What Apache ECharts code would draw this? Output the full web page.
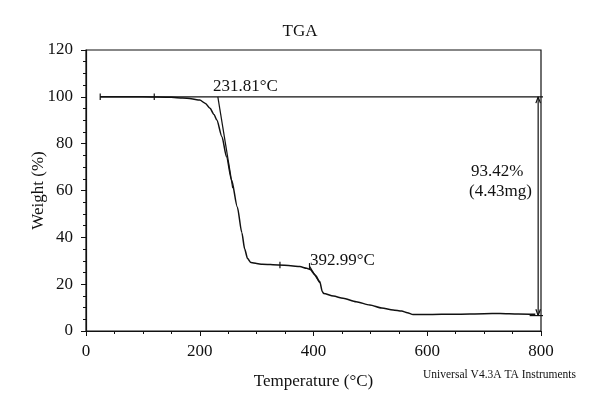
<!DOCTYPE html>
<html><head><meta charset="utf-8">
<script src="https://cdn.jsdelivr.net/npm/echarts@6/dist/echarts.min.js"></script>
<style>html,body{margin:0;padding:0;background:#fff}#c{width:600px;height:412px}</style>
</head><body><div id="c"></div>
<script>
// TGA curve (temperature °C, weight %)
const temperature = [25, 100, 150, 170, 185, 200, 210, 218, 225, 230, 239, 247, 256, 266, 274, 279, 284, 290, 300, 310, 338, 360, 376, 388, 394, 403, 411, 415.5, 418, 435, 452, 475, 499, 520, 540, 555, 565, 575, 600, 650, 700, 728, 760, 790];
const weight =      [100, 100, 99.8, 99.5, 99.2, 98.6, 97.2, 95.1, 92.5, 90.1, 83, 74.4, 64.5, 53, 42, 35, 31, 29.2, 28.8, 28.5, 28.2, 27.9, 27.5, 26.8, 26.3, 23.9, 21.1, 16.8, 16.0, 14.9, 14.0, 12.5, 11.1, 9.8, 9.0, 8.5, 7.8, 7.0, 7.0, 7.2, 7.4, 7.5, 7.3, 7.1];

// analysis annotations (data coordinates)
const onset1 = 231.81, onset2 = 392.99;
const lossPct = 93.42, residue = 100 - lossPct;
const baselineLine = [[25, 100], [806, 100]];
const tangent1 = [[onset1, 100], [258, 61]];
const tangent2 = [[onset2, 27.6], [411, 20.5]];
const tick1 = [[25, 98.6], [25, 101.4]];
const tick2 = [[120, 98.6], [120, 101.4]];
const tick3 = [[341, 26.8], [341, 29.6]];
const tick4 = [[onset2, 26.2], [onset2, 29.0]];
const arrowShaft = [[795, 100], [795, residue]];
const arrowTop = [[791, 97.3], [795, 100], [799, 97.3]];
const arrowBottom = [[791, residue + 2.7], [795, residue], [799, residue + 2.7]];
const residueLine = [[780, residue], [806, residue]];

const xTicks = [0, 200, 400, 600, 800];
const yTicks = [0, 20, 40, 60, 80, 100, 120];

const serif = 'Liberation Serif, DejaVu Serif, serif';
const chart = echarts.init(document.getElementById('c'), null, {renderer: 'canvas'});

function seg(data, w) {
  return {type: 'line', data: data, showSymbol: false, symbol: 'none', clip: false, silent: true,
    animation: false, lineStyle: {color: '#111', width: w || 1.2}, z: 3};
}

const curve = temperature.map((t, i) => [t, weight[i]]);

chart.setOption({
  animation: false,
  backgroundColor: '#fff',
  grid: {left: 86, right: 59, top: 50, bottom: 81, show: true, borderColor: '#111', borderWidth: 1.2, backgroundColor: 'transparent'},
  title: {text: 'TGA', left: 'center', top: 18, textStyle: {fontFamily: serif, fontSize: 17, fontWeight: 'normal', color: '#111'}},
  xAxis: {type: 'value', min: xTicks[0], max: xTicks[xTicks.length - 1], interval: 200,
    name: 'Temperature (°C)', nameLocation: 'middle', nameGap: 42, nameMoveOverlap: false,
    nameTextStyle: {fontFamily: serif, fontSize: 17, color: '#111'},
    axisLine: {lineStyle: {color: '#111', width: 1.2}},
    axisTick: {length: 5, lineStyle: {color: '#111'}},
    minorTick: {show: true, splitNumber: 4, length: 3, lineStyle: {color: '#111'}},
    splitLine: {show: false},
    axisLabel: {fontFamily: serif, fontSize: 17, color: '#111', margin: 12}},
  yAxis: {type: 'value', min: yTicks[0], max: yTicks[yTicks.length - 1], interval: 20,
    name: 'Weight (%)', nameLocation: 'middle', nameGap: 39, nameMoveOverlap: false,
    nameTextStyle: {fontFamily: serif, fontSize: 17, color: '#111'},
    axisLine: {show: true, lineStyle: {color: '#111', width: 1.2}},
    axisTick: {length: 5, lineStyle: {color: '#111'}},
    minorTick: {show: true, splitNumber: 4, length: 3, lineStyle: {color: '#111'}},
    splitLine: {show: false},
    axisLabel: {fontFamily: serif, fontSize: 17, color: '#111', margin: 13}},
  graphic: [
    {type: 'text', left: 213, top: 78, style: {text: '231.81°C', font: '17px ' + serif, fill: '#111'}},
    {type: 'text', left: 310, top: 252, style: {text: '392.99°C', font: '17px ' + serif, fill: '#111'}},
    {type: 'text', left: 471, top: 163, style: {text: '93.42%', font: '17px ' + serif, fill: '#111'}},
    {type: 'text', left: 469, top: 183, style: {text: '(4.43mg)', font: '17px ' + serif, fill: '#111'}},
    {type: 'text', left: 423, top: 369, style: {text: 'Universal V4.3A TA Instruments', font: '11.5px ' + serif, fill: '#111'}}
  ],
  series: [
    Object.assign(seg(curve, 1.5), {z: 4, smooth: 0.25, smoothMonotone: 'x'}),
    seg(baselineLine), seg(tangent1), seg(tangent2),
    seg(tick1), seg(tick2), seg(tick3), seg(tick4),
    seg(arrowShaft), seg(arrowTop), seg(arrowBottom), seg(residueLine)
  ]
});
</script></body></html>
